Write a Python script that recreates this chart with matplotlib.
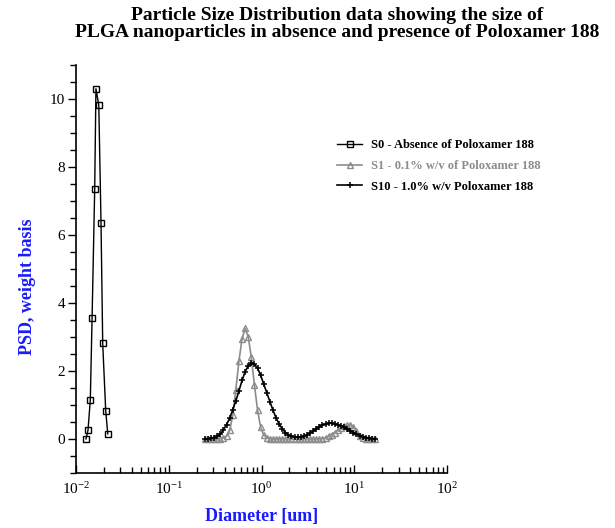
import matplotlib
matplotlib.use("Agg")
import matplotlib.pyplot as plt
from matplotlib.ticker import LogLocator, MultipleLocator, NullFormatter

plt.rcParams['font.family'] = ['Liberation Serif', 'DejaVu Serif']
plt.rcParams['mathtext.fontset'] = 'custom'
plt.rcParams['mathtext.rm'] = 'Liberation Serif'

# S0 - absence of Poloxamer 188
s0_d = [0.0128, 0.01346, 0.01426, 0.0149, 0.0159, 0.0164, 0.0176, 0.0186, 0.0194, 0.0209, 0.0220]
s0_psd = [0.0, 0.25, 1.15, 3.55, 7.34, 10.3, 9.82, 6.36, 2.81, 0.83, 0.15]

# S1 / S10 share the same size bins
d_bins = [0.2455, 0.2649, 0.2864, 0.3090, 0.3334, 0.3606, 0.3890, 0.4198, 0.4539, 0.4898,
          0.5284, 0.5715, 0.6166, 0.6653, 0.7194, 0.7762, 0.8375, 0.9057, 0.9772, 1.054,
          1.140, 1.230, 1.327, 1.435, 1.549, 1.671, 1.807, 1.950, 2.104, 2.275,
          2.455, 2.649, 2.864, 3.090, 3.334, 3.606, 3.890, 4.198, 4.539, 4.898,
          5.284, 5.715, 6.166, 6.653, 7.194, 7.762, 8.375, 9.057, 9.772, 10.54,
          11.40, 12.30, 13.27, 14.35, 15.49, 16.71]

s1_psd = [0, 0, 0, 0, 0, 0.01, 0.03, 0.08, 0.25, 0.7,
          1.45, 2.3, 2.95, 3.25, 3.0, 2.4, 1.6, 0.85, 0.35, 0.12,
          0.04, 0.01, 0, 0, 0, 0, 0, 0, 0, 0,
          0, 0, 0, 0, 0, 0, 0, 0, 0.01, 0.04,
          0.08, 0.13, 0.19, 0.26, 0.32, 0.37, 0.40, 0.41, 0.36, 0.24,
          0.10, 0.03, 0.01, 0, 0, 0]

s10_psd = [0.0, 0.01, 0.02, 0.04, 0.08, 0.15, 0.27, 0.42, 0.62, 0.86,
           1.12, 1.42, 1.72, 1.98, 2.15, 2.23, 2.2, 2.08, 1.88, 1.62,
           1.36, 1.1, 0.85, 0.62, 0.44, 0.3, 0.19, 0.12, 0.08, 0.06,
           0.05, 0.06, 0.08, 0.12, 0.17, 0.23, 0.3, 0.36, 0.41, 0.44,
           0.46, 0.46, 0.45, 0.42, 0.38, 0.34, 0.29, 0.24, 0.19, 0.14,
           0.1, 0.07, 0.04, 0.02, 0.01, 0.0]

labels = ["S0 - Absence of Poloxamer 188",
          "S1 - 0.1% w/v of Poloxamer 188",
          "S10 - 1.0% w/v Poloxamer 188"]

fig = plt.figure(figsize=(6.15, 5.28), dpi=100)
ax = fig.add_axes([0.1236, 0.1042, 0.6033, 0.7728])

gray = '#8c8c8c'
ax.plot(d_bins, s1_psd, color=gray, lw=1.2, marker='^', ms=4,
        mfc='none', mec=gray, mew=1, label=labels[1], zorder=2)
ax.plot(d_bins, s10_psd, color='black', lw=1.2, marker='+', ms=5, mew=1.1,
        label=labels[2], zorder=3)
ax.plot(s0_d, s0_psd, color='black', lw=1, marker='s', ms=4, mfc='none',
        mec='black', mew=1, label=labels[0], zorder=4)

ax.set_xscale('log')
ax.set_xlim(1e-2, 1e2)
ax.set_ylim(-1, 11)

ax.yaxis.set_major_locator(MultipleLocator(2))
ax.yaxis.set_minor_locator(MultipleLocator(0.5))
ax.xaxis.set_major_locator(LogLocator(base=10))
ax.xaxis.set_minor_locator(LogLocator(base=10, subs=range(2, 10)))
ax.xaxis.set_minor_formatter(NullFormatter())

for s in ['top', 'right']:
    ax.spines[s].set_visible(False)
for s in ['left', 'bottom']:
    ax.spines[s].set_linewidth(1.2)

ax.tick_params(axis='y', which='major', direction='out', length=6, width=1, labelsize=11, pad=2)
ax.tick_params(axis='y', which='minor', direction='out', length=4, width=1)
ax.tick_params(axis='x', which='major', direction='in', length=6, width=1, labelsize=11, pad=6)
ax.tick_params(axis='x', which='minor', direction='in', length=4, width=1)

handles, labs = ax.get_legend_handles_labels()
order = [2, 0, 1]
leg = ax.legend([handles[i] for i in order], [labs[i] for i in order],
                loc='upper left', bbox_to_anchor=(0.69, 0.83), frameon=False,
                prop={'weight': 'bold', 'size': 9}, handlelength=2.0,
                handletextpad=0.7, labelspacing=0.7, borderaxespad=0)
for txt, c in zip(leg.get_texts(), ['black', gray, 'black']):
    txt.set_color(c)

fig.text(0.548, 0.955, "Particle Size Distribution data showing the size of\n"
         "PLGA nanoparticles in absence and presence of Poloxamer 188",
         ha='center', va='center', fontsize=14, fontweight='bold',
         linespacing=1.0)

fig.text(0.044, 0.457, "PSD, weight basis", rotation=90, ha='center', va='center',
         fontsize=13, fontweight='bold', color='#1a1aff')
fig.text(0.425, 0.022, "Diameter [um]", ha='center', va='center',
         fontsize=13, fontweight='bold', color='#1a1aff')

fig.savefig('out.png', dpi=100)
